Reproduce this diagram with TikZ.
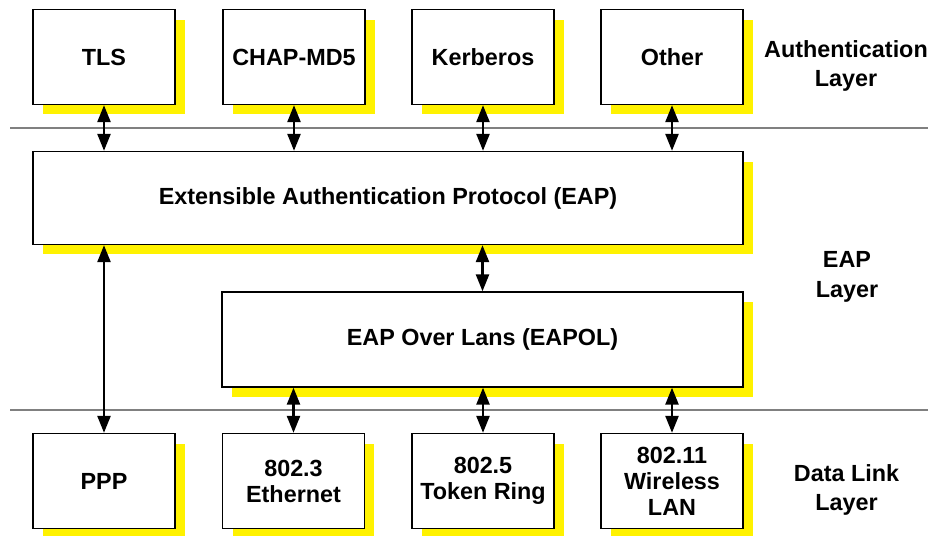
\documentclass[tikz,border=0pt]{standalone}
\usepackage{fontspec}
\setmainfont{Liberation Sans}
\usepackage{tikz}
\usetikzlibrary{arrows.meta,shadows,positioning}

\tikzset{
    layer/.style={draw, fill=white, line width=0.8pt, align=center,
        font=\fontsize{13.3}{14.8}\selectfont\bfseries,
        drop shadow={shadow xshift=0.2cm, shadow yshift=-0.2cm, fill=yellow, opacity=1}},
    proto/.style={layer, minimum width=2.84cm, minimum height=1.9cm},
    link/.style={line width=1.4pt, {Triangle[length=0.34cm,width=0.26cm]}-{Triangle[length=0.34cm,width=0.26cm]}},
    divider/.style={gray, line width=1pt},
    side/.style={align=center, font=\fontsize{13.3}{16.8}\selectfont\bfseries}
}

\begin{document}
\begin{tikzpicture}[x=0.02cm, y=-0.02cm]
    \useasboundingbox (0,0) rectangle (929,536);

    % authentication methods
    \node[proto] (tls)  at (104,57) {TLS};
    \node[proto] (chap) at (294,57) {CHAP-MD5};
    \node[proto] (krb)  at (483,57) {Kerberos};
    \node[proto] (oth)  at (672,57) {Other};

    % eap and eapol
    \node[layer, minimum width=14.2cm, minimum height=1.86cm] (eap) at (388,198) {Extensible Authentication Protocol (EAP)};
    \node[layer, minimum width=10.42cm, minimum height=1.9cm] (eapol) at (482.5,339.5) {EAP Over Lans (EAPOL)};

    % data link media
    \node[proto] (ppp)   at (104,481) {PPP};
    \node[proto] (eth)   at (293.5,481) {802.3\\Ethernet};
    \node[proto] (tok)   at (483,481) {802.5\\Token Ring};
    \node[proto] (wlan)  at (672,481) {802.11\\Wireless\\LAN};

    % layer separators
    \coordinate (d1a) at (10,128);
    \coordinate (d1b) at (928,128);
    \coordinate (d2a) at (10,410);
    \coordinate (d2b) at (928,410);
    \draw[divider] (d1a) -- (d1b);
    \draw[divider] (d2a) -- (d2b);

    % layer names
    \node[side] (authl) at (846,66) {Authentication\\Layer};
    \node[side] (eapl)  at (847,277) {EAP\\Layer};
    \node[side] (dll)   at (846.5,490) {Data Link\\Layer};

    % links
    \foreach \n in {tls,chap,krb,oth}
        \draw[link] (\n.south) -- (\n.south |- eap.north);
    \draw[link] (eapol.north |- eap.south) -- (eapol.north);
    \draw[link] (ppp.north |- eap.south) -- (ppp.north);
    \foreach \n in {eth,tok,wlan}
        \draw[link] (\n.north |- eapol.south) -- (\n.north);
\end{tikzpicture}
\end{document}
